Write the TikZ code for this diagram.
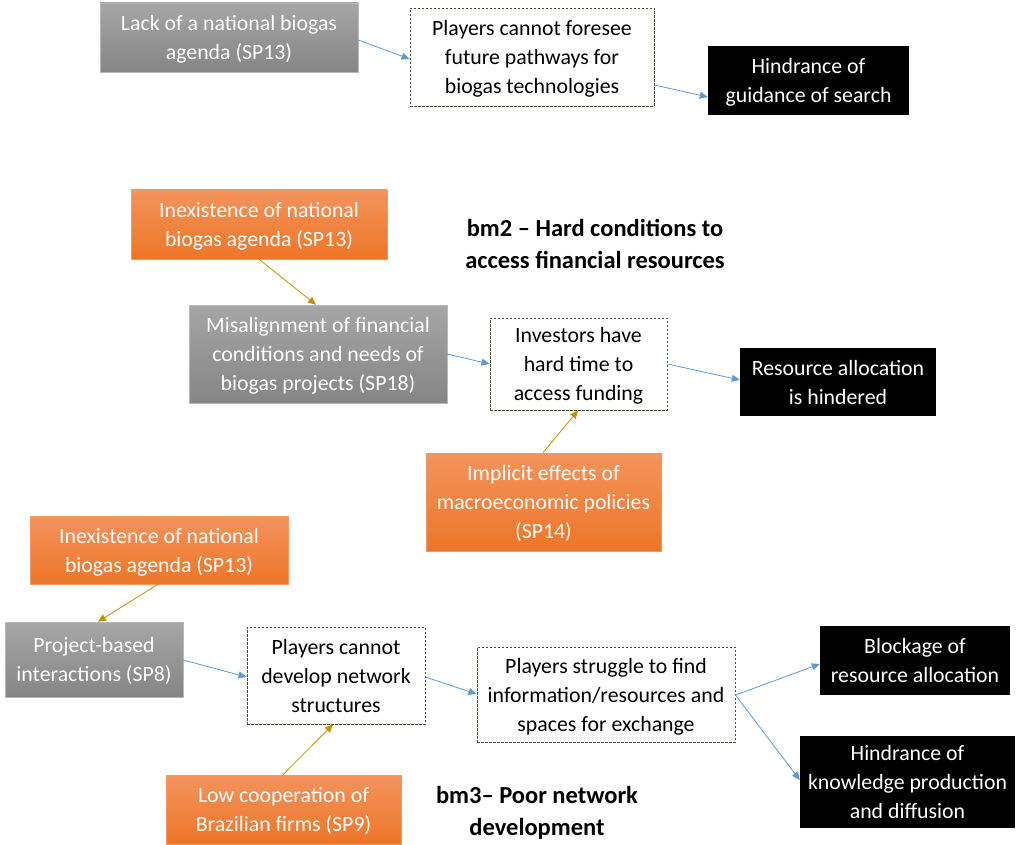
\documentclass[tikz,border=0pt]{standalone}
\usepackage{fontspec}
\setmainfont{Carlito}
\usetikzlibrary{arrows.meta}
\definecolor{grayT}{HTML}{A6A6A6}
\definecolor{grayB}{HTML}{858585}
\definecolor{orangeT}{HTML}{F4935C}
\definecolor{orangeB}{HTML}{ED7628}
\definecolor{orangeE}{HTML}{F09A62}
\definecolor{dashG}{HTML}{3A5A2A}
\definecolor{linkB}{HTML}{5B9BD5}
\definecolor{linkG}{HTML}{BF9000}
\tikzset{
  box/.style={inner sep=0pt, align=center, font=\fontsize{21.8}{29}\selectfont, text depth=0pt},
  graybox/.style={box, top color=grayT, bottom color=grayB, draw=grayT!80!white, line width=0.6pt, text=white},
  orangebox/.style={box, top color=orangeT, bottom color=orangeB, draw=orangeE, line width=0.6pt, text=white},
  effectbox/.style={box, fill=white, draw=dashG, dashed, dash pattern=on 2.5pt off 1.5pt, line width=0.9pt, text=black},
  outbox/.style={box, fill=black, text=white},
  title/.style={align=center, font=\fontsize{24.5}{32}\selectfont\bfseries},
  blink/.style={draw=linkB, line width=0.8pt, -{Triangle[length=8pt,width=7pt]}},
  glink/.style={draw=linkG, line width=0.8pt, -{Triangle[length=8pt,width=7pt]}},
}
\begin{document}
\begin{tikzpicture}[x=1pt,y=-1pt]
\useasboundingbox (0,0) rectangle (1028,845);

% block 1: guidance of search
\node[graybox, minimum width=258pt, minimum height=69pt] (a1) at (229,37.5) {Lack of a national biogas\\agenda (SP13)};
\node[effectbox, minimum width=244pt, minimum height=98pt] (a2) at (532,57) {Players cannot foresee\\future pathways for\\biogas technologies};
\node[outbox, minimum width=201pt, minimum height=69pt] (a3) at (808.5,80.5) {Hindrance of\\guidance of search};
\draw[blink] (a1.east |- 0,40) -- (a2.west |- 0,59);
\draw[blink] (a2.east |- 0,85) -- (a3.west |- 0,97);

% block 2: financial resources
\node[title] (t2) at (595,244) {bm2 -- Hard conditions to\\access financial resources};
\node[orangebox, minimum width=256pt, minimum height=69pt] (b1) at (259,224.5) {Inexistence of national\\biogas agenda (SP13)};
\node[graybox, minimum width=258pt, minimum height=98pt] (b2) at (318,354) {Misalignment of financial\\conditions and needs of\\biogas projects (SP18)};
\node[effectbox, minimum width=177pt, minimum height=92pt] (b3) at (578.5,364) {Investors have\\hard time to\\access funding};
\node[outbox, minimum width=196pt, minimum height=68pt] (b4) at (838,382) {Resource allocation\\is hindered};
\node[orangebox, minimum width=235pt, minimum height=98pt] (b5) at (543.5,502) {Implicit effects of\\macroeconomic policies\\(SP14)};
\draw[glink] (b1.south -| 259,0) -- (b2.north -| 316,0);
\draw[blink] (b2.east |- 0,354) -- (b3.west |- 0,364);
\draw[blink] (b3.east |- 0,364) -- (b4.west |- 0,380);
\draw[glink] (b5.north -| 543,0) -- (b3.south -| 578,0);

% block 3: network development
\node[title] (t3) at (537,813) {bm3-- Poor network\\development};
\node[orangebox, minimum width=258pt, minimum height=68pt] (c1) at (159,550) {Inexistence of national\\biogas agenda (SP13)};
\node[graybox, minimum width=178pt, minimum height=75pt] (c2) at (94,659.5) {Project-based\\interactions (SP8)};
\node[effectbox, minimum width=178pt, minimum height=97pt] (c3) at (336,675.5) {Players cannot\\develop network\\structures};
\node[effectbox, minimum width=258pt, minimum height=95pt] (c4) at (606,694.5) {Players struggle to find\\information/resources and\\spaces for exchange};
\node[outbox, minimum width=190pt, minimum height=69pt] (c5) at (915,660.5) {Blockage of\\resource allocation};
\node[outbox, minimum width=215pt, minimum height=92pt] (c6) at (907.5,782) {Hindrance of\\knowledge production\\and diffusion};
\node[orangebox, minimum width=235pt, minimum height=69pt] (c7) at (283.5,809.5) {Low cooperation of\\Brazilian firms (SP9)};
\draw[glink] (c1.south -| 158,0) -- (c2.north -| 98,0);
\draw[blink] (c2.east |- 0,660) -- (c3.west |- 0,677);
\draw[blink] (c3.east |- 0,677) -- (c4.west |- 0,694);
\coordinate (c4out) at (c4.east |- 0,695);
\draw[blink] (c4out) -- (c5.west |- 0,664);
\draw[blink] (c4out) -- (c6.west |- 0,780);
\draw[glink] (c7.north -| 283,0) -- (c3.south -| 333,0);
\end{tikzpicture}
\end{document}
